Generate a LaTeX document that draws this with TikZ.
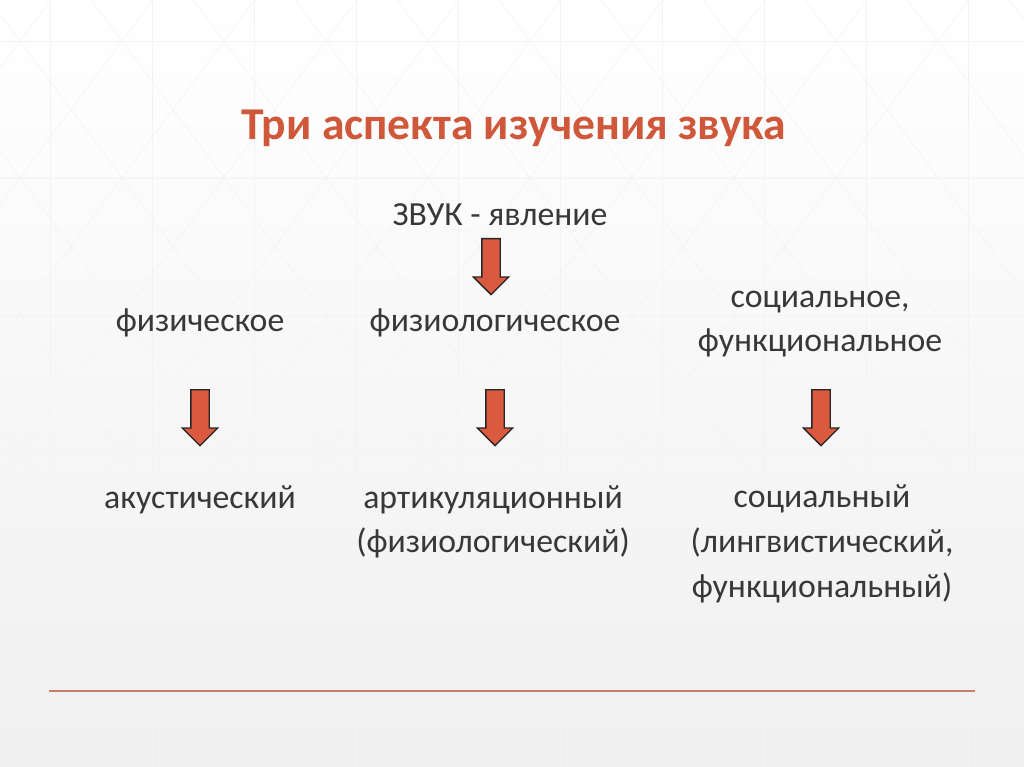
\documentclass[tikz,border=0pt]{standalone}
\usepackage{fontspec}
\setmainfont{Carlito}
\usetikzlibrary{shapes.arrows}
\definecolor{titlered}{RGB}{208,88,58}
\definecolor{arrowred}{RGB}{217,90,62}
\definecolor{rulebrown}{RGB}{196,128,104}
\definecolor{gridgray}{RGB}{243,243,243}
\tikzset{
  label/.style={align=center,font=\fontsize{24}{31.8}\selectfont,text=black!78,inner sep=0pt},
  downarrow/.style={single arrow,draw=black!85,line width=0.9pt,fill=arrowred,
    minimum height=1.4cm,single arrow head extend=0.2125cm,
    single arrow tip angle=90,inner sep=0.2125cm,rotate=-90,anchor=tail}
}
\begin{document}
\begin{tikzpicture}[x=0.025cm,y=-0.025cm]
  \useasboundingbox (0,0) rectangle (1024,767);
  \shade[top color=white,bottom color=black!6] (0,0) rectangle (1024,767);
  % faint grid in the background
  \begin{scope}
    \clip (0,0) rectangle (1024,767);
    \foreach \gx in {-52,50,...,1100} \draw[gridgray,line width=0.4pt] (\gx,0) -- (\gx,767);
    \foreach \gy in {41,178,...,767} \draw[gridgray,line width=0.4pt] (0,\gy) -- (1024,\gy);
    \foreach \gx in {-1000,-898,...,1100} {
      \draw[gridgray,line width=0.4pt] (\gx,-96) -- ++(714,959);
      \draw[gridgray,line width=0.4pt] (\gx,-96) -- ++(-714,959);
    }
  \end{scope}

  \node[font=\bfseries\fontsize{32.4}{36}\selectfont,text=titlered] (title) at (514,128) {Три аспекта изучения звука};

  \node[label] (sound) at (500,215) {ЗВУК - явление};
  \node[downarrow] (a0) at (491,238) {};

  \node[label] (phys) at (200,323) {физическое};
  \node[label] (physio) at (495,323) {физиологическое};
  \node[label] (social) at (820,324) {социальное,\\функциональное};

  \node[downarrow] (a1) at (200,389) {};
  \node[downarrow] (a2) at (495,389) {};
  \node[downarrow] (a3) at (821,389) {};

  \node[label] (acoust) at (200,500) {акустический};
  \node[label] (artic) at (493,522) {артикуляционный\\(физиологический)};
  \node[label] (ling) at (822,544) {социальный\\(лингвистический,\\функциональный)};

  \coordinate (ruleL) at (49,691);
  \coordinate (ruleR) at (975,691);
  \draw[rulebrown,line width=1.1pt] (ruleL) -- (ruleR);
\end{tikzpicture}
\end{document}
